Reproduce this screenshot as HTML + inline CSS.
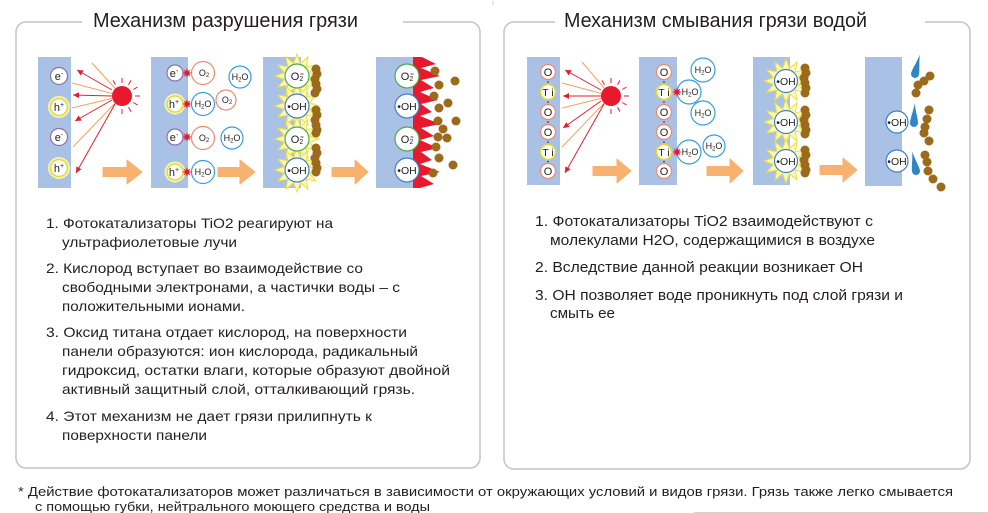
<!DOCTYPE html>
<html><head><meta charset="utf-8">
<style>
html,body{margin:0;padding:0;background:#fff;}
svg{display:block;}
text{font-family:"Liberation Sans",Arial,sans-serif;fill:#231f20;}
.c{fill:#fff;stroke-width:1.2;}
.pe{stroke:#8e6fae;}
.ph{stroke:#e3d93a;stroke-width:1.6;}
.po{stroke:#ee8a70;}
.pw{stroke:#35a0dc;}
.pg{stroke:#4aaa4a;}
.pb{stroke:#3f7fc6;}
.ci{text-anchor:middle;}
.body{font-size:14px;}
.rbody{font-size:15px;}
</style></head>
<body>
<svg width="988" height="513" viewBox="0 0 988 513" xmlns="http://www.w3.org/2000/svg">
<defs>
<polygon id="ys" points="22,0 12.56,3.36 19.05,11 9.19,9.19 11,19.05 3.36,12.56 0,22 -3.36,12.56 -11,19.05 -9.19,9.19 -19.05,11 -12.56,3.36 -22,0 -12.56,-3.36 -19.05,-11 -9.19,-9.19 -11,-19.05 -3.36,-12.56 0,-22 3.36,-12.56 11,-19.05 9.19,-9.19 19.05,-11 12.56,-3.36" fill="#fdf7b8" stroke="#efe040" stroke-width="1"/>
<polygon id="rb" points="5,0 2.03,0.84 3.54,3.54 0.84,2.03 0,5 -0.84,2.03 -3.54,3.54 -2.03,0.84 -5,0 -2.03,-0.84 -3.54,-3.54 -0.84,-2.03 0,-5 0.84,-2.03 3.54,-3.54 2.03,-0.84" fill="#e8192c"/>
<marker id="ah" viewBox="0 0 6 6" refX="6" refY="3" markerWidth="6" markerHeight="6" markerUnits="userSpaceOnUse" orient="auto">
<path d="M0,0 L6,3 L0,6 z" fill="#e0202e"/>
</marker>
<path id="drop" d="M0,-20 C1,-12 4,-4 4,0 A4,4 0 0 1 -4,0 C-4,-4 -1,-12 0,-20Z" fill="#2e86c9"/>
<g id="sun">
<g stroke="#f1a45c" stroke-width="1">
</g>
</g>
</defs>

<!-- boxes -->
<path d="M82,22 H26 A10,10 0 0 0 16,32 V458 A10,10 0 0 0 26,468 H470 A10,10 0 0 0 480,458 V32 A10,10 0 0 0 470,22 H403" fill="none" stroke="#c4c4c4" stroke-width="1.5"/>
<path d="M555,22 H514 A10,10 0 0 0 504,32 V459 A10,10 0 0 0 514,469 H960 A10,10 0 0 0 970,459 V32 A10,10 0 0 0 960,22 H925" fill="none" stroke="#c4c4c4" stroke-width="1.5"/>
<rect x="492.5" y="1" width="1" height="4" fill="#ccc"/>
<line x1="694" y1="512.5" x2="988" y2="512.5" stroke="#d0d0d0" stroke-width="1"/>

<!-- titles -->
<text x="93" y="27" font-size="20" textLength="265" lengthAdjust="spacingAndGlyphs" fill="#2b2b2b">Механизм разрушения грязи</text>
<text x="564" y="27" font-size="20" textLength="303" lengthAdjust="spacingAndGlyphs" fill="#2b2b2b">Механизм смывания грязи водой</text>

<!-- ========== LEFT PANEL 1 ========== -->
<rect x="38" y="57" width="33" height="131" fill="#a9c1e4"/>
<g stroke="#f1a45c" stroke-width="1">
<line x1="122" y1="96" x2="92" y2="63"/>
<line x1="122" y1="96" x2="72" y2="83"/>
<line x1="122" y1="96" x2="72" y2="108"/>
<line x1="122" y1="96" x2="73" y2="147"/>
</g>
<g stroke="#e0202e" stroke-width="1" marker-end="url(#ah)">
<line x1="112" y1="90" x2="77" y2="70"/>
<line x1="112" y1="96" x2="73" y2="95"/>
<line x1="112" y1="100" x2="75" y2="121"/>
<line x1="115" y1="104" x2="76" y2="173"/>
</g>
<circle cx="122" cy="96" r="10" fill="#e8192c"/>
<g stroke="#e8192c" stroke-width="1">
<line x1="122" y1="83" x2="122" y2="78"/>
<line x1="128.5" y1="84.7" x2="131" y2="80.4"/>
<line x1="133.3" y1="89.5" x2="137.6" y2="87"/>
<line x1="135" y1="96" x2="140" y2="96"/>
<line x1="133.3" y1="102.5" x2="137.6" y2="105"/>
<line x1="128.5" y1="107.3" x2="131" y2="111.6"/>
<line x1="122" y1="109" x2="122" y2="114"/>
<line x1="115.5" y1="84.7" x2="113" y2="80.4"/>
</g>
<circle cx="59" cy="107" r="10" fill="none" stroke="#f7f4b0" stroke-width="2"/>
<circle cx="59" cy="168" r="10" fill="none" stroke="#f7f4b0" stroke-width="2"/>
<circle cx="59" cy="76" r="8.5" class="c pe"/>
<circle cx="59" cy="107" r="8.5" class="c ph"/>
<circle cx="59" cy="137" r="8.5" class="c pe"/>
<circle cx="59" cy="168" r="8.5" class="c ph"/>
<text x="59" y="80" font-size="11" class="ci">e<tspan dy="-4" font-size="7">-</tspan></text>
<text x="59" y="111" font-size="11" class="ci">h<tspan dy="-4" font-size="7">+</tspan></text>
<text x="59" y="141" font-size="11" class="ci">e<tspan dy="-4" font-size="7">-</tspan></text>
<text x="59" y="172" font-size="11" class="ci">h<tspan dy="-4" font-size="7">+</tspan></text>
<polygon points="103,167.5 127,167.5 127,160 142,172 127,184 127,176.5 103,176.5" fill="#f7b26f" stroke="#f7b26f" stroke-linejoin="round" stroke-width="1"/>

<!-- ========== LEFT PANEL 2 ========== -->
<rect x="151" y="57" width="37" height="131" fill="#a9c1e4"/>
<circle cx="175" cy="104" r="9.5" fill="none" stroke="#f7f4b0" stroke-width="2"/>
<circle cx="175" cy="172" r="9.5" fill="none" stroke="#f7f4b0" stroke-width="2"/>
<circle cx="175" cy="73" r="8" class="c pe"/>
<circle cx="175" cy="104" r="8" class="c ph"/>
<circle cx="175" cy="137" r="8" class="c pe"/>
<circle cx="175" cy="172" r="8" class="c ph"/>
<text x="174" y="77" font-size="11" class="ci">e<tspan dy="-4" font-size="7">-</tspan></text>
<text x="174" y="108" font-size="11" class="ci">h<tspan dy="-4" font-size="7">+</tspan></text>
<text x="174" y="141" font-size="11" class="ci">e<tspan dy="-4" font-size="7">-</tspan></text>
<text x="174" y="176" font-size="11" class="ci">h<tspan dy="-4" font-size="7">+</tspan></text>
<circle cx="203" cy="73" r="11.5" class="c po"/>
<circle cx="203" cy="104" r="11.5" class="c pw"/>
<circle cx="203" cy="138" r="11.5" class="c po"/>
<circle cx="203" cy="172" r="11.5" class="c pw"/>
<use href="#rb" x="187" y="73"/>
<use href="#rb" x="187" y="104"/>
<use href="#rb" x="187" y="137"/>
<use href="#rb" x="187" y="172"/>
<text x="204" y="76" font-size="9" class="ci">O<tspan dy="1" font-size="6">2</tspan></text>
<text x="203" y="107" font-size="9" class="ci">H<tspan dy="1.5" font-size="6">2</tspan><tspan dy="-1.5">O</tspan></text>
<text x="204" y="141" font-size="9" class="ci">O<tspan dy="1" font-size="6">2</tspan></text>
<text x="203" y="175" font-size="9" class="ci">H<tspan dy="1.5" font-size="6">2</tspan><tspan dy="-1.5">O</tspan></text>
<circle cx="240" cy="77" r="11" class="c pw"/>
<text x="240" y="80" font-size="9" class="ci">H<tspan dy="1.5" font-size="6">2</tspan><tspan dy="-1.5">O</tspan></text>
<circle cx="226" cy="100" r="10" class="c po"/>
<text x="227" y="103" font-size="9" class="ci">O<tspan dy="1" font-size="6">2</tspan></text>
<circle cx="232" cy="138" r="11" class="c pw"/>
<text x="232" y="141" font-size="9" class="ci">H<tspan dy="1.5" font-size="6">2</tspan><tspan dy="-1.5">O</tspan></text>
<polygon points="218,167.5 240,167.5 240,160 255,172 240,184 240,176.5 218,176.5" fill="#f7b26f" stroke="#f7b26f" stroke-linejoin="round" stroke-width="1"/>

<!-- ========== LEFT PANEL 3 ========== -->
<rect x="263" y="57" width="38" height="131" fill="#a9c1e4"/>
<use href="#ys" x="297" y="76"/>
<use href="#ys" x="297" y="106"/>
<use href="#ys" x="297" y="139"/>
<use href="#ys" x="297" y="170"/>
<circle cx="297" cy="76" r="12" class="c pg"/>
<circle cx="297" cy="106" r="12" class="c pb"/>
<circle cx="297" cy="139" r="12" class="c pg"/>
<circle cx="297" cy="170" r="12" class="c pb"/>
<text x="297" y="80" font-size="11" class="ci">O<tspan dy="1" font-size="7">2</tspan></text>
<line x1="300.5" y1="74" x2="303.5" y2="74" stroke="#231f20" stroke-width="0.8"/>
<text x="297" y="110" font-size="10.5" class="ci">•OH</text>
<text x="297" y="143" font-size="11" class="ci">O<tspan dy="1" font-size="7">2</tspan></text>
<line x1="300.5" y1="137" x2="303.5" y2="137" stroke="#231f20" stroke-width="0.8"/>
<text x="297" y="174" font-size="10.5" class="ci">•OH</text>
<g fill="#9c6a1b">
<circle cx="316" cy="69" r="4.5"/><circle cx="317" cy="74" r="4.5"/><circle cx="315" cy="79" r="4.5"/><circle cx="316" cy="84" r="4.5"/><circle cx="317" cy="89" r="4.5"/><circle cx="315" cy="93" r="4.5"/>
<circle cx="316" cy="110" r="4.5"/><circle cx="317" cy="115" r="4.5"/><circle cx="315" cy="120" r="4.5"/><circle cx="316" cy="125" r="4.5"/><circle cx="317" cy="130" r="4.5"/><circle cx="316" cy="133" r="4.5"/>
<circle cx="316" cy="148" r="4.5"/><circle cx="317" cy="153" r="4.5"/><circle cx="315" cy="158" r="4.5"/><circle cx="316" cy="163" r="4.5"/><circle cx="317" cy="168" r="4.5"/><circle cx="316" cy="172" r="4.5"/>
</g>
<polygon points="332,167.5 355,167.5 355,160 368,172 355,184 355,176.5 332,176.5" fill="#f7b26f" stroke="#f7b26f" stroke-linejoin="round" stroke-width="1"/>

<!-- ========== LEFT PANEL 4 ========== -->
<rect x="376" y="57" width="37" height="131" fill="#a9c1e4"/>
<polygon points="413,57 422,57 436,64 421,68 440,76 421,80 434,88 420,92 438,100 421,104 432,112 420,116 440,124 421,128 434,136 420,140 438,148 421,152 432,160 420,164 440,172 421,176 434,184 420,188 413,188" fill="#e8192c"/>
<circle cx="407" cy="76" r="12" class="c pg"/>
<circle cx="407" cy="106" r="12" class="c pb"/>
<circle cx="407" cy="139" r="12" class="c pg"/>
<circle cx="407" cy="170" r="12" class="c pb"/>
<text x="407" y="80" font-size="11" class="ci">O<tspan dy="1" font-size="7">2</tspan></text>
<line x1="410.5" y1="74" x2="413.5" y2="74" stroke="#231f20" stroke-width="0.8"/>
<text x="407" y="110" font-size="10.5" class="ci">•OH</text>
<text x="407" y="143" font-size="11" class="ci">O<tspan dy="1" font-size="7">2</tspan></text>
<line x1="410.5" y1="137" x2="413.5" y2="137" stroke="#231f20" stroke-width="0.8"/>
<text x="407" y="174" font-size="10.5" class="ci">•OH</text>
<g fill="#9c6a1b">
<circle cx="435" cy="71" r="4.5"/><circle cx="455" cy="81" r="4.5"/><circle cx="439" cy="85" r="4.5"/><circle cx="434" cy="96" r="4.5"/><circle cx="448" cy="103" r="4.5"/><circle cx="439" cy="108" r="4.5"/><circle cx="438" cy="121" r="4.5"/><circle cx="456" cy="121" r="4.5"/><circle cx="443" cy="129" r="4.5"/><circle cx="438" cy="137" r="4.5"/><circle cx="447" cy="138" r="4.5"/><circle cx="436" cy="147" r="4.5"/><circle cx="439" cy="158" r="4.5"/><circle cx="453" cy="165" r="4.5"/><circle cx="433" cy="173" r="4.5"/>
</g>

<!-- ========== RIGHT PANEL 1 ========== -->
<rect x="527" y="57" width="33" height="128" fill="#a9c1e4"/>
<g stroke="#f1a45c" stroke-width="1">
<line x1="611" y1="96" x2="582" y2="62"/>
<line x1="611" y1="96" x2="562" y2="83"/>
<line x1="611" y1="96" x2="562" y2="108"/>
<line x1="611" y1="96" x2="562" y2="147"/>
</g>
<g stroke="#e0202e" stroke-width="1" marker-end="url(#ah)">
<line x1="601" y1="90" x2="565" y2="70"/>
<line x1="601" y1="96" x2="563" y2="96"/>
<line x1="601" y1="101" x2="563" y2="128"/>
<line x1="604" y1="104" x2="565" y2="173"/>
</g>
<circle cx="611" cy="96" r="10" fill="#e8192c"/>
<g stroke="#e8192c" stroke-width="1">
<line x1="611" y1="83" x2="611" y2="78"/>
<line x1="617.5" y1="84.7" x2="620" y2="80.4"/>
<line x1="622.3" y1="89.5" x2="626.6" y2="87"/>
<line x1="624" y1="96" x2="629" y2="96"/>
<line x1="622.3" y1="102.5" x2="626.6" y2="105"/>
<line x1="617.5" y1="107.3" x2="620" y2="111.6"/>
<line x1="611" y1="109" x2="611" y2="114"/>
<line x1="604.5" y1="84.7" x2="602" y2="80.4"/>
</g>
<g>
<circle cx="548" cy="72" r="7.5" class="c po"/>
<circle cx="548" cy="92" r="7.5" class="c ph"/>
<circle cx="548" cy="112" r="7.5" class="c po"/>
<circle cx="548" cy="132" r="7.5" class="c po"/>
<circle cx="548" cy="152" r="7.5" class="c ph"/>
<circle cx="548" cy="171" r="7.5" class="c po"/>
<g fill="#231f20"><circle cx="548" cy="82" r="0.8"/><circle cx="548" cy="102" r="0.8"/><circle cx="548" cy="122" r="0.8"/><circle cx="548" cy="142" r="0.8"/><circle cx="548" cy="161.5" r="0.8"/></g>
<text x="548" y="76" font-size="11" class="ci">O</text>
<text x="548" y="96" font-size="10.5" class="ci">T i</text>
<text x="548" y="116" font-size="11" class="ci">O</text>
<text x="548" y="136" font-size="11" class="ci">O</text>
<text x="548" y="156" font-size="10.5" class="ci">T i</text>
<text x="548" y="175" font-size="11" class="ci">O</text>
</g>
<polygon points="593,166.5 617,166.5 617,159 631,171 617,183 617,175.5 593,175.5" fill="#f7b26f" stroke="#f7b26f" stroke-linejoin="round" stroke-width="1"/>

<!-- ========== RIGHT PANEL 2 ========== -->
<rect x="639" y="57" width="38" height="128" fill="#a9c1e4"/>
<circle cx="689" cy="92" r="12" class="c pw"/>
<circle cx="689" cy="152" r="12" class="c pw"/>
<circle cx="664" cy="72" r="7.5" class="c po"/>
<circle cx="664" cy="92" r="7.5" class="c ph"/>
<circle cx="664" cy="112" r="7.5" class="c po"/>
<circle cx="664" cy="132" r="7.5" class="c po"/>
<circle cx="664" cy="152" r="7.5" class="c ph"/>
<circle cx="664" cy="171" r="7.5" class="c po"/>
<g fill="#231f20"><circle cx="664" cy="82" r="0.8"/><circle cx="664" cy="102" r="0.8"/><circle cx="664" cy="122" r="0.8"/><circle cx="664" cy="142" r="0.8"/><circle cx="664" cy="161.5" r="0.8"/></g>
<text x="664" y="76" font-size="11" class="ci">O</text>
<text x="664" y="96" font-size="10.5" class="ci">T i</text>
<text x="664" y="116" font-size="11" class="ci">O</text>
<text x="664" y="136" font-size="11" class="ci">O</text>
<text x="664" y="156" font-size="10.5" class="ci">T i</text>
<text x="664" y="175" font-size="11" class="ci">O</text>
<use href="#rb" x="677" y="92"/>
<use href="#rb" x="677" y="152"/>
<text x="690" y="95" font-size="9" class="ci">H<tspan dy="1.5" font-size="6">2</tspan><tspan dy="-1.5">O</tspan></text>
<text x="690" y="155" font-size="9" class="ci">H<tspan dy="1.5" font-size="6">2</tspan><tspan dy="-1.5">O</tspan></text>
<circle cx="703" cy="70" r="12" class="c pw"/>
<text x="703" y="73" font-size="9" class="ci">H<tspan dy="1.5" font-size="6">2</tspan><tspan dy="-1.5">O</tspan></text>
<circle cx="703" cy="113" r="12" class="c pw"/>
<text x="703" y="116" font-size="9" class="ci">H<tspan dy="1.5" font-size="6">2</tspan><tspan dy="-1.5">O</tspan></text>
<circle cx="714" cy="146" r="11" class="c pw"/>
<text x="714" y="149" font-size="9" class="ci">H<tspan dy="1.5" font-size="6">2</tspan><tspan dy="-1.5">O</tspan></text>
<polygon points="707,166.5 730,166.5 730,159 743,171 730,183 730,175.5 707,175.5" fill="#f7b26f" stroke="#f7b26f" stroke-linejoin="round" stroke-width="1"/>

<!-- ========== RIGHT PANEL 3 ========== -->
<rect x="753" y="57" width="37" height="128" fill="#a9c1e4"/>
<use href="#ys" x="786" y="81"/>
<use href="#ys" x="786" y="122"/>
<use href="#ys" x="786" y="161"/>
<circle cx="786" cy="81" r="11.5" class="c pb"/>
<circle cx="786" cy="122" r="11.5" class="c pb"/>
<circle cx="786" cy="161" r="11.5" class="c pb"/>
<text x="786" y="85" font-size="10.5" class="ci">•OH</text>
<text x="786" y="126" font-size="10.5" class="ci">•OH</text>
<text x="786" y="165" font-size="10.5" class="ci">•OH</text>
<g fill="#9c6a1b">
<circle cx="805" cy="68" r="4.5"/><circle cx="806" cy="73" r="4.5"/><circle cx="804" cy="78" r="4.5"/><circle cx="805" cy="83" r="4.5"/><circle cx="806" cy="88" r="4.5"/><circle cx="805" cy="93" r="4.5"/>
<circle cx="805" cy="110" r="4.5"/><circle cx="806" cy="115" r="4.5"/><circle cx="804" cy="120" r="4.5"/><circle cx="805" cy="125" r="4.5"/><circle cx="806" cy="130" r="4.5"/><circle cx="805" cy="134" r="4.5"/>
<circle cx="805" cy="150" r="4.5"/><circle cx="806" cy="155" r="4.5"/><circle cx="804" cy="160" r="4.5"/><circle cx="805" cy="165" r="4.5"/><circle cx="806" cy="170" r="4.5"/><circle cx="805" cy="173" r="4.5"/>
</g>
<polygon points="820,165.5 843,165.5 843,158 857,170 843,182 843,174.5 820,174.5" fill="#f7b26f" stroke="#f7b26f" stroke-linejoin="round" stroke-width="1"/>

<!-- ========== RIGHT PANEL 4 ========== -->
<rect x="865" y="57" width="37" height="129" fill="#a9c1e4"/>
<circle cx="897" cy="122" r="11" class="c pb"/>
<circle cx="897" cy="161" r="11" class="c pb"/>
<text x="897" y="126" font-size="10.5" class="ci">•OH</text>
<text x="897" y="165" font-size="10.5" class="ci">•OH</text>
<use href="#drop" transform="translate(915,74) rotate(14)"/>
<use href="#drop" transform="translate(914,123) rotate(2)"/>
<use href="#drop" transform="translate(916,171) rotate(-11)"/>
<g fill="#9c6a1b">
<circle cx="930" cy="76" r="4.5"/><circle cx="924" cy="81" r="4.5"/><circle cx="918" cy="85" r="4.5"/><circle cx="916" cy="93" r="4.5"/>
<circle cx="929" cy="110" r="4.5"/><circle cx="927" cy="119" r="4.5"/><circle cx="925" cy="127" r="4.5"/><circle cx="924" cy="133" r="4.5"/><circle cx="929" cy="141" r="4.5"/>
<circle cx="925" cy="155" r="4.5"/><circle cx="927" cy="162" r="4.5"/><circle cx="928" cy="171" r="4.5"/><circle cx="933" cy="179" r="4.5"/><circle cx="941" cy="187" r="4.5"/>
</g>

<!-- ========== LEFT TEXT ========== -->
<g class="body" font-size="14">
<text x="46" y="228" textLength="287" lengthAdjust="spacingAndGlyphs">1. Фотокатализаторы TiO2 реагируют на</text>
<text x="62" y="247" textLength="175" lengthAdjust="spacingAndGlyphs">ультрафиолетовые лучи</text>
<text x="46" y="273" textLength="317" lengthAdjust="spacingAndGlyphs">2. Кислород вступает во взаимодействие со</text>
<text x="62" y="292" textLength="338" lengthAdjust="spacingAndGlyphs">свободными электронами, а частички воды – с</text>
<text x="62" y="311" textLength="183" lengthAdjust="spacingAndGlyphs">положительными ионами.</text>
<text x="46" y="337" textLength="361" lengthAdjust="spacingAndGlyphs">3. Оксид титана отдает кислород, на поверхности</text>
<text x="62" y="356" textLength="356" lengthAdjust="spacingAndGlyphs">панели образуются: ион кислорода, радикальный</text>
<text x="62" y="375" textLength="388" lengthAdjust="spacingAndGlyphs">гидроксид, остатки влаги, которые образуют двойной</text>
<text x="62" y="394" textLength="353" lengthAdjust="spacingAndGlyphs">активный защитный слой, отталкивающий грязь.</text>
<text x="46" y="421" textLength="326" lengthAdjust="spacingAndGlyphs">4. Этот механизм не дает грязи прилипнуть к</text>
<text x="62" y="440" textLength="145" lengthAdjust="spacingAndGlyphs">поверхности панели</text>
</g>

<!-- ========== RIGHT TEXT ========== -->
<g font-size="15">
<text x="535" y="226" textLength="338" lengthAdjust="spacingAndGlyphs">1. Фотокатализаторы TiO2 взаимодействуют с</text>
<text x="550" y="245" textLength="325" lengthAdjust="spacingAndGlyphs">молекулами H2O, содержащимися в воздухе</text>
<text x="535" y="272" textLength="328" lengthAdjust="spacingAndGlyphs">2. Вследствие данной реакции возникает OH</text>
<text x="535" y="300" textLength="368" lengthAdjust="spacingAndGlyphs">3. OH позволяет воде проникнуть под слой грязи и</text>
<text x="550" y="318" textLength="65" lengthAdjust="spacingAndGlyphs">смыть ее</text>
</g>

<!-- ========== FOOTNOTE ========== -->
<g font-size="13">
<text x="18" y="496" textLength="935" lengthAdjust="spacingAndGlyphs">* Действие фотокатализаторов может различаться в зависимости от окружающих условий и видов грязи. Грязь также легко смывается</text>
<text x="35" y="511" textLength="395" lengthAdjust="spacingAndGlyphs">с помощью губки, нейтрального моющего средства и воды</text>
</g>
</svg>
</body></html>
